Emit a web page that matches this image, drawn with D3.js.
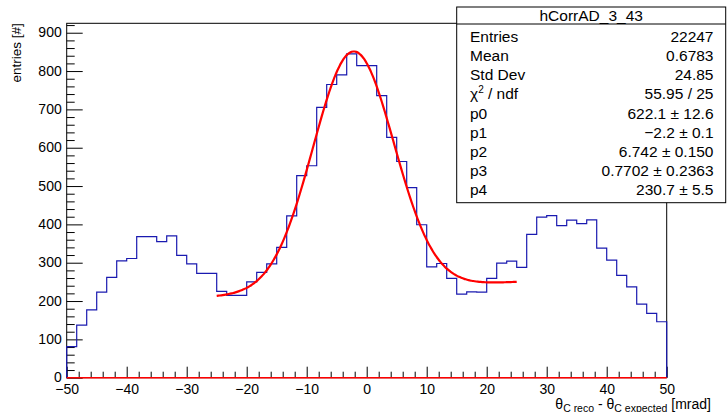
<!DOCTYPE html>
<html>
<head>
<meta charset="utf-8">
<script src="https://cdn.jsdelivr.net/npm/d3@7"></script>
<style>
  body { margin: 0; background: #fff; }
  svg text { font-family: "Liberation Sans", Arial, Helvetica, sans-serif; }
</style>
</head>
<body>
<div id="chart"></div>
<script>
// histogram contents, 60 bins from -50 to 50 mrad
const binLow = -50, binHigh = 50;
const counts = [
  81, 137, 177, 223, 262, 305, 311, 368, 368, 355,
  370, 319, 297, 272, 272, 225, 215, 215, 250, 275,
  297, 340, 422, 527, 553, 705, 765, 790, 845, 814,
  814, 736, 627, 564, 496, 399, 289, 298, 259, 218,
  224, 223, 259, 299, 304, 288, 374, 419, 423, 397,
  411, 402, 412, 338, 307, 267, 237, 192, 168, 146
];

// gaus(p0,p1,p2) + pol1(p3,p4), fitted in [-25, 25]
const fitParams = [622.1, -2.2, 6.742, 0.7702, 230.7];
const fitRange = [-25, 25];

const statLabels = ["Entries", "Mean", "Std Dev", "chi", "p0", "p1", "p2", "p3", "p4"];
const statValues = ["22247", "0.6783", "24.85", "55.95 / 25",
  "622.1 \u00b1 12.6", "\u22122.2 \u00b1 0.1", "6.742 \u00b1 0.150",
  "0.7702 \u00b1 0.2363", "230.7 \u00b1 5.5"];
const histName = "hCorrAD_3_43";

const width = 727, height = 412;
const frame = { left: 66.7, right: 666.7, top: 23.3, bottom: 377.7 };

const svg = d3.select("#chart").append("svg")
  .attr("width", width)
  .attr("height", height);

const x = d3.scaleLinear().domain([binLow, binHigh]).range([frame.left, frame.right]);
const y = d3.scaleLinear().domain([0, 924.6]).range([frame.bottom, frame.top]);

// y axis, ticks pointing into the frame
const yAxis = svg.append("g")
  .attr("transform", "translate(" + frame.left + ",0)")
  .call(d3.axisLeft(y).tickValues(d3.range(0, 901, 100)).tickSize(-16).tickPadding(5).tickSizeOuter(0));
svg.append("g")
  .attr("transform", "translate(" + frame.left + ",0)")
  .call(d3.axisLeft(y).tickValues(d3.range(0, 921, 20).filter(d => d % 100 != 0)).tickSize(-8).tickFormat("").tickSizeOuter(0));

const xAxis = svg.append("g")
  .attr("transform", "translate(0," + frame.bottom + ")")
  .call(d3.axisBottom(x).tickValues(d3.range(-50, 51, 10)).tickSize(-11).tickPadding(6).tickSizeOuter(0));
svg.append("g")
  .attr("transform", "translate(0," + frame.bottom + ")")
  .call(d3.axisBottom(x).tickValues(d3.range(-50, 51, 2).filter(d => d % 10 != 0)).tickSize(-6).tickFormat("").tickSizeOuter(0));

svg.selectAll(".domain").remove();
svg.selectAll(".tick line").attr("stroke", "#000");
svg.selectAll(".tick text").attr("font-size", 14).attr("fill", "#000");
yAxis.selectAll(".tick text").attr("dy", "0.3em");
xAxis.selectAll(".tick text").attr("dy", "0.72em");

// frame
svg.append("rect")
  .attr("x", frame.left).attr("y", frame.top)
  .attr("width", frame.right - frame.left).attr("height", frame.bottom - frame.top)
  .attr("fill", "none").attr("stroke", "#000").attr("stroke-width", 1);

// histogram outline
const bw = (binHigh - binLow) / counts.length;
const pts = [[binLow, 0]];
counts.forEach((c, i) => {
  pts.push([binLow + i * bw, c]);
  pts.push([binLow + (i + 1) * bw, c]);
});
pts.push([binHigh, 0]);
svg.append("path")
  .datum(pts)
  .attr("fill", "none")
  .attr("stroke", "#1a1ab0")
  .attr("stroke-width", 1.2)
  .attr("d", d3.line().x(d => x(d[0])).y(d => y(d[1])));

// red line along the x axis
svg.append("line")
  .attr("x1", frame.left).attr("x2", frame.right)
  .attr("y1", y(0)).attr("y2", y(0))
  .attr("stroke", "#ff0000").attr("stroke-width", 1.5);

// fit function
function fitFn(v) {
  const p = fitParams;
  return p[0] * Math.exp(-0.5 * Math.pow((v - p[1]) / p[2], 2)) + p[3] * v + p[4];
}
const fitPts = d3.range(fitRange[0], fitRange[1] + 0.001, 0.25).map(v => [v, fitFn(v)]);
svg.append("path")
  .datum(fitPts)
  .attr("fill", "none")
  .attr("stroke", "#ff0000")
  .attr("stroke-width", 2.2)
  .attr("d", d3.line().x(d => x(d[0])).y(d => y(d[1])).curve(d3.curveMonotoneX));

// axis titles
svg.append("text")
  .attr("transform", "translate(21," + frame.top + ") rotate(-90)")
  .attr("text-anchor", "end")
  .attr("font-size", 13.5)
  .text("entries [#]");

const xt = svg.append("text")
  .attr("x", 711).attr("y", 409)
  .attr("text-anchor", "end")
  .attr("font-size", 14);
xt.append("tspan").text("\u03b8");
xt.append("tspan").attr("font-size", 10.5).attr("dy", 2.5).text("C reco");
xt.append("tspan").attr("dy", -2.5).text(" - \u03b8");
xt.append("tspan").attr("font-size", 10.5).attr("dy", 2.5).text("C expected");
xt.append("tspan").attr("dy", -2.5).text(" [mrad]");

// stats box
const box = { x: 456.7, y: 7, w: 269, h: 195.7 };
const sb = svg.append("g");
sb.append("rect")
  .attr("x", box.x).attr("y", box.y).attr("width", box.w).attr("height", box.h)
  .attr("fill", "#fff").attr("stroke", "#000").attr("stroke-width", 1);
sb.append("line")
  .attr("x1", box.x).attr("x2", box.x + box.w)
  .attr("y1", 24).attr("y2", 24)
  .attr("stroke", "#000");
sb.append("text")
  .attr("x", box.x + box.w / 2).attr("y", 21)
  .attr("text-anchor", "middle").attr("font-size", 15.5)
  .text(histName);

const rowY = d3.scaleLinear().domain([0, statLabels.length - 1]).range([36.7, 189.3]);
statLabels.forEach((lab, i) => {
  const t = sb.append("text")
    .attr("x", 470).attr("y", rowY(i) + 5.5).attr("font-size", 15.5);
  if (lab === "chi") {
    t.append("tspan").text("\u03c7");
    t.append("tspan").attr("font-size", 10).attr("dy", -6).text("2");
    t.append("tspan").attr("dy", 6).text(" / ndf");
  } else {
    t.text(lab);
  }
  sb.append("text")
    .attr("x", 713.5).attr("y", rowY(i) + 5.5)
    .attr("text-anchor", "end").attr("font-size", 15.5)
    .text(statValues[i]);
});
</script>
</body>
</html>
